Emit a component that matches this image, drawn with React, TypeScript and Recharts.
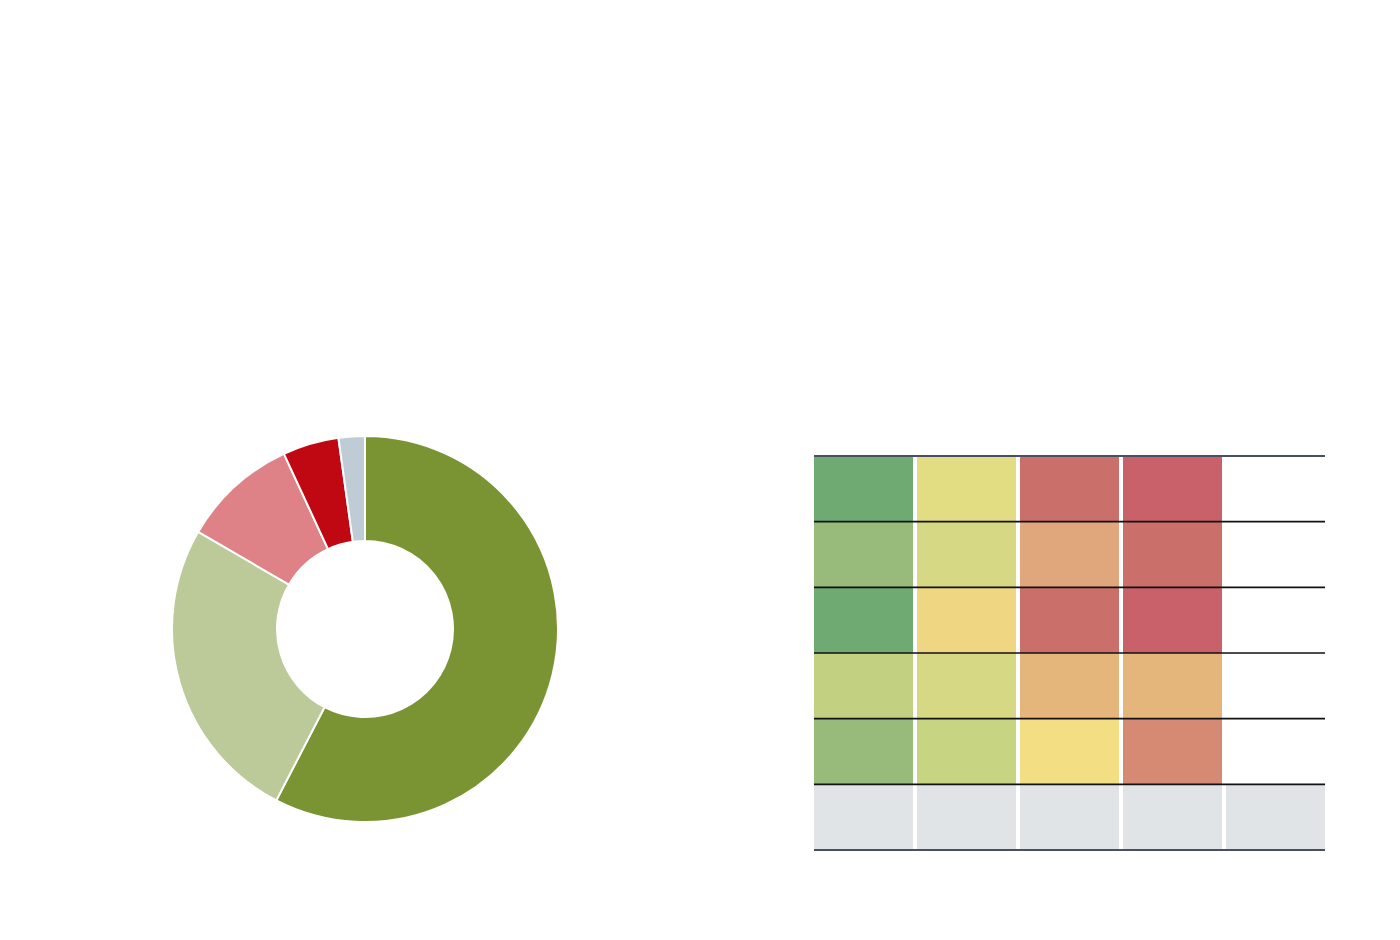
import React from 'react';
import { PieChart, Pie, Cell, BarChart, Bar, XAxis, YAxis, ReferenceLine } from 'recharts';

// donut shares, clockwise from 12 o'clock
const SLICE_NAMES = ['A', 'B', 'C', 'D', 'E'];
const SLICE_VALUES = [57.6, 25.8, 9.7, 4.7, 2.2];
const SLICE_COLORS = ['#7b9433', '#bcc998', '#de8288', '#c00813', '#c0ccd5'];

// heat matrix: 5 columns, 6 rows (top row first); null = empty cell, 0 = grey "n/a"
const COLUMNS = ['c1', 'c2', 'c3', 'c4', 'c5'];
const ROW_KEYS = ['r1', 'r2', 'r3', 'r4', 'r5', 'r6'];
const ROW_1 = [1, 5, 10, 11, null];
const ROW_2 = [2, 4, 8, 10, null];
const ROW_3 = [1, 6.5, 10, 11, null];
const ROW_4 = [3, 4, 7, 7, null];
const ROW_5 = [2, 3.5, 6, 9, null];
const ROW_6 = [0, 0, 0, 0, 0];
const ROWS = [ROW_1, ROW_2, ROW_3, ROW_4, ROW_5, ROW_6];
const ROW_LINES = [0, 1, 2, 3, 4, 5, 6];

const HEAT_COLORS: Record<string, string> = {
  '0': '#e0e4e7',
  '1': '#6faa73',
  '2': '#98ba7a',
  '3': '#c1d181',
  '3.5': '#c7d482',
  '4': '#d6d884',
  '5': '#e2dd82',
  '6': '#f3de84',
  '6.5': '#efd683',
  '7': '#e4b67c',
  '8': '#e0a67c',
  '9': '#d68a74',
  '10': '#cb6f6a',
  '11': '#c9616a',
};

const pieData = SLICE_NAMES.map((name, i) => ({ name, value: SLICE_VALUES[i] }));

// every cell is one unit tall; bottom row (grey) stacks first
const heatData = COLUMNS.map((col) => {
  const row: Record<string, string | number> = { col };
  ROW_KEYS.forEach((k) => {
    row[k] = 1;
  });
  return row;
});

const cellFill = (v: number | null) => (v === null ? 'transparent' : HEAT_COLORS[String(v)]);

// rule line trimmed to the outer edges of the cells (band gap is 2px each side)
const TrimmedLine = (props: any) => {
  const { x1, x2, y1, y2, stroke, strokeWidth } = props;
  return <line x1={x1 + 2} x2={x2 - 2} y1={y1} y2={y2} stroke={stroke} strokeWidth={strokeWidth} />;
};

const App: React.FC = () => {
  const stackOrder = [...ROW_KEYS].reverse();
  return (
    <div style={{ position: 'absolute', left: 0, top: 0, width: 1400, height: 940, background: '#fff' }}>
      {/* donut */}
      <div style={{ position: 'absolute', left: 165, top: 429 }}>
        <PieChart width={400} height={400} margin={{ top: 0, right: 0, bottom: 0, left: 0 }}>
          <Pie
            data={pieData}
            dataKey="value"
            startAngle={90}
            endAngle={-270}
            innerRadius={88}
            outerRadius={193}
            stroke="#ffffff"
            strokeWidth={2}
            isAnimationActive={false}
          >
            {pieData.map((_, idx) => (
              <Cell key={idx} fill={SLICE_COLORS[idx]} />
            ))}
          </Pie>
        </PieChart>
      </div>

      {/* heat matrix */}
      <div style={{ position: 'absolute', left: 810, top: 454 }}>
        <BarChart
          width={519}
          height={398}
          data={heatData}
          margin={{ top: 2, right: 2, bottom: 2, left: 2 }}
          barCategoryGap={2}
        >
          <XAxis dataKey="col" hide />
          <YAxis hide domain={[0, 6]} type="number" />
          {stackOrder.map((key) => {
            const rowIdx = ROW_KEYS.indexOf(key);
            return (
              <Bar key={key} dataKey={key} stackId="m" isAnimationActive={false}>
                {heatData.map((_, ci) => (
                  <Cell key={ci} fill={cellFill(ROWS[rowIdx][ci])} />
                ))}
              </Bar>
            );
          })}
          {ROW_LINES.map((y) => (
            <ReferenceLine
              key={y}
              y={y}
              stroke={y === 0 || y === 6 ? '#4a5062' : '#111111'}
              strokeWidth={y === 0 || y === 6 ? 2 : 1.6}
              shape={TrimmedLine}
            />
          ))}
        </BarChart>
      </div>
    </div>
  );
};

export default App;
